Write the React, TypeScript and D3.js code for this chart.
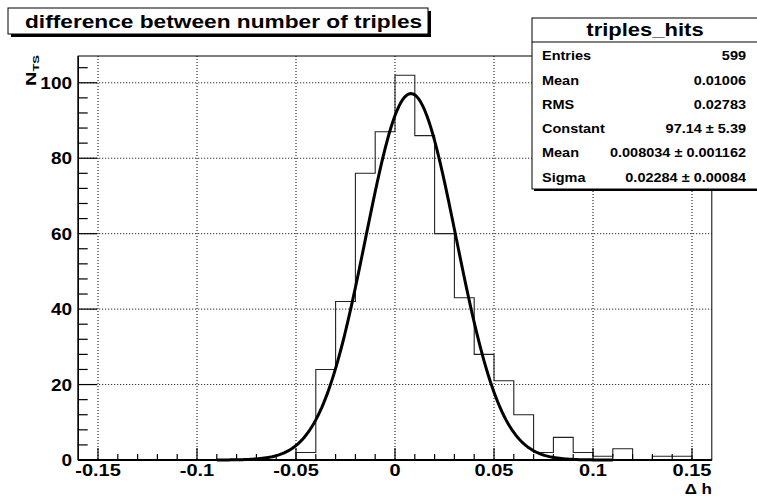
import React from "react";
import * as d3 from "d3";

const W = 757;
const H = 499;

// histogram: 32 bins of width 0.01 from -0.16 to 0.16
const binStart = -0.16;
const binWidth = 0.01;
const counts = [
  0, 0, 0, 0, 0, 0, 0, 0, 0, 0, 0, 2, 24, 42, 76, 87,
  102, 86, 60, 43, 28, 21, 12, 2, 6, 2, 1, 3, 0, 1, 1, 0,
];

// gaussian fit (parameters from the stats box)
const fitConstant = 97.14;
const fitMean = 0.008034;
const fitSigma = 0.02284;
const fitRange = [-0.09, 0.11];

const xTicks = [-0.15, -0.1, -0.05, 0, 0.05, 0.1, 0.15];
const xTickLabels = ["-0.15", "-0.1", "-0.05", "0", "0.05", "0.1", "0.15"];
const yTicks = [0, 20, 40, 60, 80, 100];
const yTickLabels = ["0", "20", "40", "60", "80", "100"];

const titleText = "difference between number of triples";
const statsTitle = "triples_hits";
const statsLabels = ["Entries", "Mean", "RMS", "Constant", "Mean", "Sigma"];
const statsValues = [
  "599",
  "0.01006",
  "0.02783",
  "97.14 \u00b1 5.39",
  "0.008034 \u00b1 0.001162",
  "0.02284 \u00b1 0.00084",
];

const FONT = "'Liberation Sans', Arial, Helvetica, sans-serif";

function T({ x, y, size, anchor = "start", sy = 0.82, children }: any) {
  return (
    <g transform={`translate(${x},${y}) scale(1,${sy})`}>
      <text
        x={0}
        y={0}
        fontSize={size}
        fontWeight="bold"
        fontFamily={FONT}
        textAnchor={anchor}
        fill="#000"
      >
        {children}
      </text>
    </g>
  );
}

export default function App() {
  const left = 78.2, right = 711.8, top = 56, bottom = 460;
  const x = d3.scaleLinear().domain([-0.16, 0.16]).range([left, right]);
  const y = d3.scaleLinear().domain([0, 107.1]).range([bottom, top]);

  // histogram outline
  let hist = `M${x(binStart)},${y(0)}`;
  counts.forEach((c, i) => {
    const hi = binStart + binWidth * (i + 1);
    hist += `V${y(c)}H${x(hi)}`;
  });
  hist += `V${y(0)}`;

  const gauss = (v: number) =>
    fitConstant * Math.exp(-0.5 * Math.pow((v - fitMean) / fitSigma, 2));
  const fitXs = d3.range(0, 201).map(
    (i) => fitRange[0] + ((fitRange[1] - fitRange[0]) * i) / 200
  );
  const fitPath = d3
    .line<number>()
    .x((v) => x(v))
    .y((v) => y(gauss(v)))(fitXs);

  const xMinor = d3.range(-16, 17).map((i) => i * 0.01).filter(
    (v) => !xTicks.some((t) => Math.abs(t - v) < 1e-9) && Math.abs(v) < 0.1599
  );
  const yMinor = d3.range(0, 108, 4).filter((v) => v % 20 !== 0);

  const rowBase = [60, 84.5, 109, 133, 157, 181.5];

  return (
    <svg
      width={W}
      height={H}
      style={{ position: "absolute", left: 0, top: 0, background: "#fff" }}
    >
      <rect x={0} y={0} width={W} height={H} fill="#fff" />
      {/* grid */}
      {xTicks.map((t, i) => (
        <line key={"gx" + i} x1={x(t)} x2={x(t)} y1={top} y2={bottom}
          stroke="#000" strokeWidth={1} strokeDasharray="1 2" />
      ))}
      {yTicks.map((t, i) => (
        <line key={"gy" + i} x1={left} x2={right} y1={y(t)} y2={y(t)}
          stroke="#000" strokeWidth={1} strokeDasharray="1 2" />
      ))}
      {/* histogram */}
      <path d={hist} fill="none" stroke="#222" strokeWidth={1.1} />
      {/* fit */}
      <path d={fitPath || ""} fill="none" stroke="#000" strokeWidth={3} strokeLinejoin="round" />
      {/* frame */}
      <rect x={left} y={top} width={right - left} height={bottom - top}
        fill="none" stroke="#000" strokeWidth={1} />
      <line x1={left} x2={right} y1={bottom} y2={bottom} stroke="#000" strokeWidth={2} />
      <line x1={left} x2={left} y1={top} y2={bottom} stroke="#000" strokeWidth={1.5} />
      {/* x ticks */}
      {xTicks.map((t, i) => (
        <line key={"xt" + i} x1={x(t)} x2={x(t)} y1={bottom} y2={bottom - 12}
          stroke="#000" strokeWidth={1.2} />
      ))}
      {xMinor.map((t, i) => (
        <line key={"xm" + i} x1={x(t)} x2={x(t)} y1={bottom} y2={bottom - 6}
          stroke="#000" strokeWidth={1.2} />
      ))}
      {/* y ticks */}
      {yTicks.map((t, i) => (
        <line key={"yt" + i} x1={left} x2={left + 19} y1={y(t)} y2={y(t)}
          stroke="#000" strokeWidth={1.2} />
      ))}
      {yMinor.map((t, i) => (
        <line key={"ym" + i} x1={left} x2={left + 9.5} y1={y(t)} y2={y(t)}
          stroke="#000" strokeWidth={1.2} />
      ))}
      {/* tick labels */}
      {xTicks.map((t, i) => (
        <T key={"xl" + i} x={x(t)} y={476} size={20} anchor="middle">
          {xTickLabels[i]}
        </T>
      ))}
      {yTicks.map((t, i) => (
        <T key={"yl" + i} x={72} y={y(t) + 6} size={19} anchor="end">
          {yTickLabels[i]}
        </T>
      ))}
      {/* axis titles */}
      <T x={712} y={494} size={17} anchor="end">{"\u0394 h"}</T>
      <g transform={`translate(36,55) rotate(-90) scale(1,0.72)`}>
        <text fontSize={20} fontWeight="bold" fontFamily={FONT} textAnchor="end">
          N<tspan fontSize={13} dy={4}>TS</tspan>
        </text>
      </g>
      {/* title box */}
      <rect x={11} y={11} width={420} height={26} fill="#000" />
      <rect x={8} y={8} width={420} height={26} fill="#fff" stroke="#000" strokeWidth={1} />
      <T x={25} y={28} size={22.7} sy={0.82}>{titleText}</T>
      {/* stats box */}
      <rect x={534} y={20} width={226} height={171} fill="#000" />
      <rect x={532} y={18} width={226} height={171} fill="#fff" stroke="#000" strokeWidth={1} />
      <line x1={532} x2={758} y1={42} y2={42} stroke="#000" strokeWidth={1} />
      <T x={645} y={36} size={22} anchor="middle" sy={0.85}>{statsTitle}</T>
      {statsLabels.map((s, i) => (
        <T key={"sl" + i} x={542} y={rowBase[i]} size={14.5} sy={0.88}>{s}</T>
      ))}
      {statsValues.map((s, i) => (
        <T key={"sv" + i} x={746} y={rowBase[i]} size={14.5} anchor="end" sy={0.88}>{s}</T>
      ))}
    </svg>
  );
}
